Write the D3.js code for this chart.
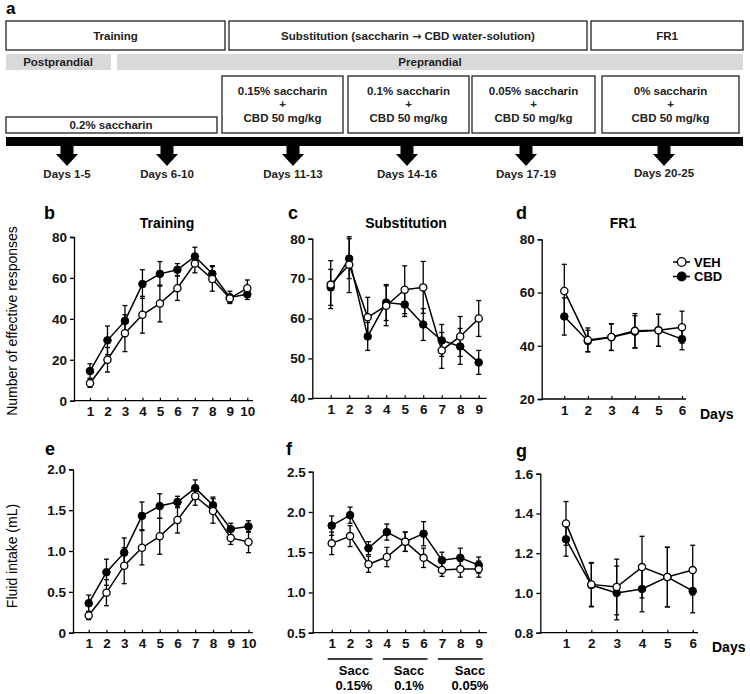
<!DOCTYPE html>
<html><head><meta charset="utf-8">
<script src="https://cdn.jsdelivr.net/npm/d3@7"></script>
<style>body{margin:0;background:#fff}svg{display:block}text{font-family:"Liberation Sans",Arial,sans-serif}</style>
</head><body>
<svg id="c" width="750" height="694"></svg>
<script>
// ---------- DATA ----------
const daysTraining = [1,2,3,4,5,6,7,8,9,10];
const daysSubst = [1,2,3,4,5,6,7,8,9];
const daysFR1 = [1,2,3,4,5,6];

const respTrainVEH = [8.5, 20, 33, 42, 47.5, 55, 67, 59.5, 50, 55];
const respTrainVEHErr = [2, 6, 9, 9, 9, 6, 4.5, 6, 2, 4];
const respTrainCBD = [14.5, 29.5, 39, 57, 62, 64, 70.5, 62, 50.5, 52];
const respTrainCBDErr = [3.5, 7, 7.5, 7, 6, 3, 4.5, 4, 3, 2.5];

const respSubVEH = [68.5, 73.5, 60.3, 63.2, 67.2, 67.8, 52, 55.5, 60];
const respSubVEHErr = [6, 7, 5, 5, 6, 6.5, 4.5, 5, 4.5];
const respSubCBD = [67.8, 75, 55.5, 64, 63.5, 58.5, 54.5, 53, 49];
const respSubCBDErr = [4.5, 5, 3.5, 4.5, 3, 4, 4, 4.5, 3];

const respFR1VEH = [60.6, 42.2, 43.3, 45.6, 45.8, 47];
const respFR1VEHErr = [10, 4.5, 5, 6.5, 6, 6];
const respFR1CBD = [51, 41.8, 43.2, 45.3, 45.8, 42.5];
const respFR1CBDErr = [7, 4, 5, 6, 6, 4];

const fluidTrainVEH = [0.21, 0.49, 0.82, 1.04, 1.18, 1.38, 1.67, 1.49, 1.16, 1.11];
const fluidTrainVEHErr = [0.05, 0.16, 0.22, 0.21, 0.22, 0.16, 0.11, 0.15, 0.08, 0.13];
const fluidTrainCBD = [0.36, 0.74, 0.98, 1.43, 1.55, 1.60, 1.77, 1.56, 1.27, 1.30];
const fluidTrainCBDErr = [0.1, 0.16, 0.18, 0.17, 0.15, 0.07, 0.1, 0.1, 0.07, 0.07];

const fluidSubVEH = [1.61, 1.70, 1.35, 1.44, 1.63, 1.43, 1.28, 1.29, 1.29];
const fluidSubVEHErr = [0.14, 0.13, 0.1, 0.12, 0.12, 0.12, 0.08, 0.1, 0.1];
const fluidSubCBD = [1.83, 1.96, 1.55, 1.75, 1.63, 1.73, 1.40, 1.43, 1.34];
const fluidSubCBDErr = [0.12, 0.1, 0.08, 0.1, 0.12, 0.15, 0.1, 0.12, 0.1];

const fluidFR1VEH = [1.35, 1.043, 1.03, 1.13, 1.08, 1.115];
const fluidFR1VEHErr = [0.11, 0.11, 0.14, 0.155, 0.15, 0.125];
const fluidFR1CBD = [1.27, 1.04, 1.0, 1.02, 1.08, 1.01];
const fluidFR1CBDErr = [0.085, 0.11, 0.135, 0.115, 0.15, 0.11];

const ticksResp80 = [0, 20, 40, 60, 80];
const ticksRespSub = [40, 50, 60, 70, 80];
const ticksRespFR1 = [20, 40, 60, 80];
const ticksFluidTrain = [0, 0.5, 1.0, 1.5, 2.0];
const ticksFluidSub = [0.5, 1.0, 1.5, 2.0, 2.5];
const ticksFluidFR1 = [0.8, 1.0, 1.2, 1.4, 1.6];

const saccGroups = ["0.15%", "0.1%", "0.05%"];
const saccGroupDays = [[1,3],[4,6],[7,9]];

// ---------- DRAW ----------
const svg = d3.select("#c");
const FONT = '"Liberation Sans", Arial, sans-serif';

// ===== Schematic (a) =====
svg.append("text").attr("x",6).attr("y",14).attr("font-size",17).attr("font-weight","bold").text("a");
const sch = svg.append("g").attr("font-weight","bold").attr("font-size",11.5).attr("fill","#222");
function box(x0,x1,y0,y1){sch.append("rect").attr("x",x0).attr("y",y0).attr("width",x1-x0).attr("height",y1-y0).attr("fill","#fff").attr("stroke","#222").attr("stroke-width",1.3);}
function ctext(x,y,t){sch.append("text").attr("x",x).attr("y",y).attr("text-anchor","middle").attr("dominant-baseline","central").text(t);}
box(6,225,21,50); ctext(115.5,35.5,"Training");
box(229,587,21,50);
const subT = sch.append("text").attr("x",408).attr("y",35.5).attr("text-anchor","middle").attr("dominant-baseline","central");
subT.append("tspan").text("Substitution (saccharin ");
subT.append("tspan").attr("font-family","DejaVu Sans").attr("font-size",11).text("\u2192");
subT.append("tspan").text(" CBD water-solution)");
box(591,743,21,50); ctext(667,35.5,"FR1");
sch.append("rect").attr("x",6).attr("y",54).attr("width",105).attr("height",16).attr("fill","#d9d9d9");
sch.append("rect").attr("x",117).attr("y",54).attr("width",626).attr("height",16).attr("fill","#d9d9d9");
ctext(58,62,"Postprandial"); ctext(430,62,"Preprandial");
box(6,217,117,133); ctext(111,125,"0.2% saccharin");
const subBoxes = [[222,343,"0.15% saccharin"],[348,469,"0.1% saccharin"],[472,595,"0.05% saccharin"],[602,739,"0% saccharin"]];
subBoxes.forEach(b=>{box(b[0],b[1],76,133); const cx=(b[0]+b[1])/2; ctext(cx,90.5,b[2]); ctext(cx,104,"+"); ctext(cx,118,"CBD 50 mg/kg");});
sch.append("rect").attr("x",6).attr("y",137).attr("width",737).attr("height",9).attr("fill","#000");
const arrows = [[67,"Days 1-5"],[167,"Days 6-10"],[293,"Days 11-13"],[407,"Days 14-16"],[526,"Days 17-19"],[664,"Days 20-25"]];
arrows.forEach((a,i)=>{
  const x=a[0];
  sch.append("path").attr("d",`M${x-6.5},145 L${x+6.5},145 L${x+6.5},154 L${x+11},154 L${x},166 L${x-11},154 L${x-6.5},154 Z`).attr("fill","#000");
  ctext(x, i===5?172.5:174, a[1]);
});

// ===== Panels =====
function panel(cfg){
  const g = svg.append("g");
  const y = d3.scaleLinear().domain(cfg.yDomain).range([cfg.yBot, cfg.yTop]);
  const x = d3.scaleLinear().domain([cfg.days[0], cfg.days[cfg.days.length-1]]).range([cfg.x1, cfg.xn]);
  const ya = d3.axisLeft(y).tickValues(cfg.yTicks).tickSize(4).tickPadding(3).tickFormat(cfg.fmt);
  const yg = g.append("g").attr("transform",`translate(${cfg.axisX},0)`).call(ya);
  yg.select(".domain").attr("stroke","#000").attr("stroke-width",1.3);
  yg.selectAll(".tick line").attr("stroke","#000").attr("stroke-width",1.3);
  yg.selectAll(".tick text").attr("font-size",13.5).attr("font-weight","bold").attr("font-family",FONT).attr("fill","#111");
  g.append("line").attr("x1",cfg.axisX).attr("x2",cfg.xEnd).attr("y1",cfg.yBot).attr("y2",cfg.yBot).attr("stroke","#000").attr("stroke-width",1.3);
  const xa = d3.axisBottom(x).tickValues(cfg.days).tickSize(-3).tickPadding(6).tickFormat(d3.format("d"));
  const xg = g.append("g").attr("transform",`translate(0,${cfg.yBot})`).call(xa);
  xg.select(".domain").remove();
  xg.selectAll(".tick line").attr("stroke","#000").attr("stroke-width",1.2);
  xg.selectAll(".tick text").attr("font-size",13.5).attr("font-weight","bold").attr("font-family",FONT).attr("fill","#111");
  const line = d3.line().x((d,i)=>x(cfg.days[i])).y(d=>y(d));
  [cfg.cbd, cfg.veh].forEach(s=>g.append("path").attr("d",line(s)).attr("fill","none").attr("stroke","#000").attr("stroke-width",1.5));
  [[cfg.cbd,cfg.cbdErr],[cfg.veh,cfg.vehErr]].forEach(([s,e])=>{
    s.forEach((v,i)=>{
      const cx=x(cfg.days[i]);
      g.append("line").attr("x1",cx).attr("x2",cx).attr("y1",y(v-e[i])).attr("y2",y(v+e[i])).attr("stroke","#000").attr("stroke-width",1.3);
      [v-e[i],v+e[i]].forEach(w=>g.append("line").attr("x1",cx-2.5).attr("x2",cx+2.5).attr("y1",y(w)).attr("y2",y(w)).attr("stroke","#000").attr("stroke-width",1.3));
    });
  });
  cfg.cbd.forEach((v,i)=>g.append("circle").attr("cx",x(cfg.days[i])).attr("cy",y(v)).attr("r",3.8).attr("fill","#000").attr("stroke","#000"));
  cfg.veh.forEach((v,i)=>g.append("circle").attr("cx",x(cfg.days[i])).attr("cy",y(v)).attr("r",3.6).attr("fill","#fff").attr("stroke","#000").attr("stroke-width",1.3));
  g.append("text").attr("x",cfg.lx).attr("y",cfg.ly).attr("font-size",18).attr("font-weight","bold").text(cfg.letter);
  if(cfg.title) g.append("text").attr("x",cfg.tx).attr("y",cfg.ty).attr("text-anchor","middle").attr("font-size",14).attr("font-weight","bold").text(cfg.title);
  return {g,x,y};
}

const fmt0 = d3.format("d");
const fmt1 = d=> d===0 ? "0" : d3.format(".1f")(d);

panel({days:daysTraining, veh:respTrainVEH, vehErr:respTrainVEHErr, cbd:respTrainCBD, cbdErr:respTrainCBDErr,
  yDomain:[0,80], yTicks:ticksResp80, fmt:fmt0, axisX:74, yTop:237, yBot:400.7, x1:90, xn:247.3, xEnd:253,
  letter:"b", lx:44, ly:219, title:"Training", tx:167, ty:228});
panel({days:daysSubst, veh:respSubVEH, vehErr:respSubVEHErr, cbd:respSubCBD, cbdErr:respSubCBDErr,
  yDomain:[40,80], yTicks:ticksRespSub, fmt:fmt0, axisX:312.3, yTop:238.7, yBot:398.3, x1:330.7, xn:478.7, xEnd:486.7,
  letter:"c", lx:288, ly:219, title:"Substitution", tx:406, ty:228});
panel({days:daysFR1, veh:respFR1VEH, vehErr:respFR1VEHErr, cbd:respFR1CBD, cbdErr:respFR1CBDErr,
  yDomain:[20,80], yTicks:ticksRespFR1, fmt:fmt0, axisX:541.7, yTop:239.3, yBot:399, x1:564.3, xn:682, xEnd:686,
  letter:"d", lx:516, ly:219, title:"FR1", tx:623, ty:228});
panel({days:daysTraining, veh:fluidTrainVEH, vehErr:fluidTrainVEHErr, cbd:fluidTrainCBD, cbdErr:fluidTrainCBDErr,
  yDomain:[0,2], yTicks:ticksFluidTrain, fmt:fmt1, axisX:73, yTop:469.3, yBot:632.7, x1:88.7, xn:248.5, xEnd:253,
  letter:"e", lx:45, ly:455});
const pf = panel({days:daysSubst, veh:fluidSubVEH, vehErr:fluidSubVEHErr, cbd:fluidSubCBD, cbdErr:fluidSubCBDErr,
  yDomain:[0.5,2.5], yTicks:ticksFluidSub, fmt:fmt1, axisX:312.7, yTop:471.7, yBot:632.7, x1:331.7, xn:478.7, xEnd:487,
  letter:"f", lx:286, ly:455});
panel({days:daysFR1, veh:fluidFR1VEH, vehErr:fluidFR1VEHErr, cbd:fluidFR1CBD, cbdErr:fluidFR1CBDErr,
  yDomain:[0.8,1.6], yTicks:ticksFluidFR1, fmt:fmt1, axisX:540.3, yTop:473.7, yBot:632.7, x1:566, xn:692.7, xEnd:698,
  letter:"g", lx:516, ly:457});

svg.append("text").attr("x",700).attr("y",419).attr("font-size",14).attr("font-weight","bold").text("Days");
svg.append("text").attr("x",712).attr("y",652).attr("font-size",14).attr("font-weight","bold").text("Days");

saccGroups.forEach((s,i)=>{
  const [a,b]=saccGroupDays[i];
  const x0=pf.x(a)-4, x1=pf.x(b)+4;
  svg.append("line").attr("x1",x0).attr("x2",x1).attr("y1",659).attr("y2",659).attr("stroke","#000").attr("stroke-width",1.3);
  const cx=[354,409,470][i];
  svg.append("text").attr("x",cx).attr("y",675).attr("text-anchor","middle").attr("font-size",13).attr("font-weight","bold").text("Sacc");
  svg.append("text").attr("x",cx).attr("y",690).attr("text-anchor","middle").attr("font-size",13).attr("font-weight","bold").text(s);
});

[["VEH","#fff",262],["CBD","#000",276.5]].forEach(([t,f,yy])=>{
  svg.append("line").attr("x1",673).attr("x2",690).attr("y1",yy).attr("y2",yy).attr("stroke","#000").attr("stroke-width",1.5);
  svg.append("circle").attr("cx",681.7).attr("cy",yy).attr("r",4.3).attr("fill",f).attr("stroke","#000").attr("stroke-width",1.3);
  svg.append("text").attr("x",694).attr("y",yy+4.5).attr("font-size",13).attr("font-weight","bold").text(t);
});

svg.append("text").attr("transform","translate(17,321) rotate(-90)").attr("text-anchor","middle").attr("font-size",14).text("Number of effective responses");
svg.append("text").attr("transform","translate(17,556) rotate(-90)").attr("text-anchor","middle").attr("font-size",14).text("Fluid intake (mL)");
</script>
</body></html>
